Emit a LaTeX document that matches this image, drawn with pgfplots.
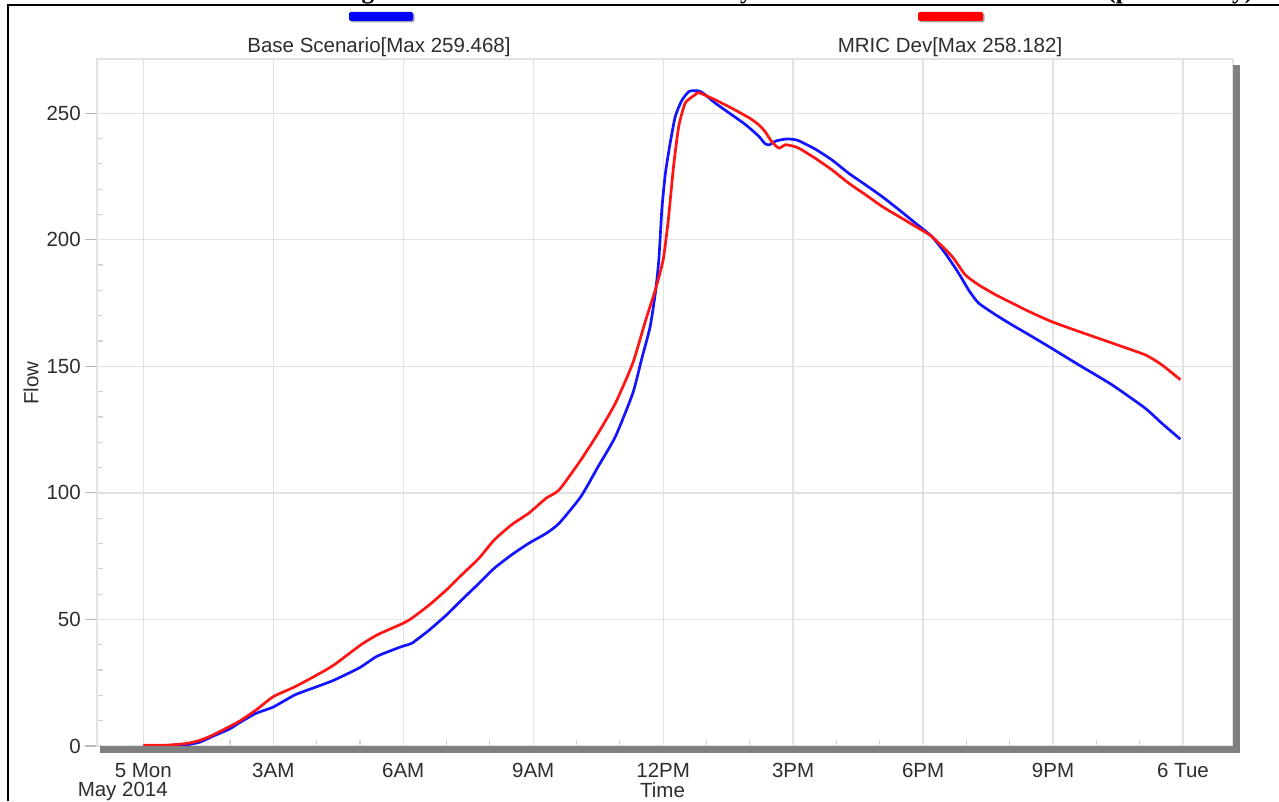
\documentclass[border=0pt]{standalone}
\usepackage{fontspec}
\usepackage{pgfplots}
\pgfplotsset{compat=1.18}
\setmainfont{Liberation Sans}
\newfontfamily\titlefont{Liberation Serif}
\definecolor{blueline}{RGB}{20,20,255}
\definecolor{redline}{RGB}{255,20,20}
\definecolor{gridc}{RGB}{226,226,226}
\definecolor{shadowc}{RGB}{128,128,128}
\definecolor{txt}{RGB}{45,45,45}

\pgfplotstableread{
h v
0 0
0.5 0
1.0 0.5
1.3 1.5
1.6 3.8
2.0 6.8
2.2 9
2.6 12.9
3.0 15.4
3.5 20.2
4.0 23.4
4.4 26
5.0 31
5.4 35.5
6.0 39.5
6.2 40.6
6.6 45.8
7.0 51.8
7.35 57.7
7.75 64.3
8.1 70.2
8.5 75.5
8.9 80.1
9.3 84
9.6 88
10.1 98.5
10.5 110.4
10.9 122.3
11.3 139.4
11.5 152.6
11.7 165.7
11.82 179
11.9 192
11.97 212
12.05 226
12.16 238
12.28 248.7
12.43 255
12.6 258.6
12.82 258.8
12.97 257.3
13.2 254
13.58 249.4
13.9 245.5
14.2 241
14.35 238
14.45 237.5
14.6 239
14.85 239.8
15.1 239.3
15.5 235.9
15.89 231.6
16.28 226.3
16.67 221.7
17.05 217.1
17.44 211.9
17.82 206.6
18.2 201.3
18.51 194.7
18.82 186.8
19.05 180.2
19.28 175
19.67 170.4
20.05 166.4
20.44 162.5
20.96 157.2
21.59 150.6
22.36 142.7
23.13 133.4
23.51 127.5
23.94 121.2
}\basedata

\pgfplotstableread{
h v
0 0.3
0.5 0.3
1.0 1.0
1.3 2.2
1.6 4.3
2.2 9.6
2.6 14.2
3.0 19.5
3.5 23.4
4.0 28
4.4 32
5.0 39.7
5.4 43.9
6.0 48.5
6.2 50.5
6.6 55.7
7.0 61.7
7.35 67.6
7.75 74.2
8.1 81.4
8.5 87.4
8.9 92
9.3 97.9
9.6 101.2
10.1 113
10.5 123.6
10.9 135.5
11.3 151.3
11.6 168.4
11.82 180.2
12.0 192
12.12 208
12.24 229
12.36 244.8
12.51 254
12.74 257.3
12.82 258.1
13.2 255.3
13.58 252
14.0 248
14.2 245.5
14.35 242.8
14.5 238.9
14.67 236.2
14.82 237.5
14.97 237.1
15.13 236.2
15.5 232.3
15.89 227.7
16.28 222.4
16.67 217.8
17.05 213.2
17.44 209.2
17.82 205.3
18.2 201.3
18.67 193.4
18.97 186.2
19.28 182.2
19.67 178.3
20.05 175
20.44 171.7
20.96 167.7
21.59 163.8
22.36 159.2
23.13 154.5
23.51 150.6
23.94 144.7
}\mricdata

\begin{document}
\begin{tikzpicture}
\useasboundingbox (0,0) rectangle (1279pt,801pt);
\clip (0,0) rectangle (1279pt,801pt);
% cut-off document title (only descenders visible)
\node[anchor=base west, inner sep=0pt, font=\titlefont\bfseries\fontsize{25.3}{28}\selectfont]
  at (339pt,802pt) {Figure 7: Base and MRIC Dev Hourly Flow Near the Main Site Access (preliminary)};
% outer frame
\draw[black, line width=2pt] (8pt,0pt) -- (8pt,795.5pt) -- (1285pt,795.5pt);
% legend
\fill[shadowc!70, rounded corners=1.5pt] (350.5pt,778.5pt) rectangle (414.5pt,787.5pt);
\fill[blue, rounded corners=1.5pt] (349pt,780pt) rectangle (413pt,789pt);
\fill[shadowc!70, rounded corners=1.5pt] (919.5pt,778.5pt) rectangle (984.5pt,787.5pt);
\fill[red, rounded corners=1.5pt] (918pt,780pt) rectangle (983pt,789pt);
\node[anchor=base, inner sep=0pt, text=txt, font=\fontsize{20.5}{24}\selectfont] at (379pt,748.5pt) {Base Scenario[Max 259.468]};
\node[anchor=base, inner sep=0pt, text=txt, font=\fontsize{20.5}{24}\selectfont] at (950pt,748.5pt) {MRIC Dev[Max 258.182]};

\begin{axis}[
  at={(97pt,55pt)}, anchor=south west,
  scale only axis, width=1136pt, height=687pt,
  xmin=-1.069, xmax=25.155, ymin=0, ymax=271.4,
  xtick={0,3,...,24},
  xticklabels={5 Mon,3AM,6AM,9AM,12PM,3PM,6PM,9PM,6 Tue},
  ytick={0,50,...,250},
  minor x tick num=2, minor y tick num=4,
  tick pos=left,
  grid=major,
  major grid style={draw=gridc, line width=1.3pt},
  axis line style={draw=gridc, line width=1.3pt},
  tick align=outside,
  major tick length=12pt, minor tick length=6pt,
  major x tick style={draw=none},
  major y tick style={draw=gray!55, line width=1.2pt},
  minor x tick style={draw=gray!35, line width=1.2pt, yshift=6pt},
  minor y tick style={draw=gray!35, line width=1.2pt, xshift=6pt},
  ticklabel style={font=\fontsize{20.5}{24}\selectfont, text=txt},
  yticklabel style={inner xsep=4pt},
  xticklabel style={inner ysep=5pt},
  /pgf/number format/assume math mode=true,
]
\addplot[blueline, line width=2.7pt, line join=round, smooth, tension=0.35] table[x=h,y=v] {\basedata};
\addplot[redline, line width=2.7pt, line join=round, smooth, tension=0.35] table[x=h,y=v] {\mricdata};
\end{axis}
% drop shadow of the plot area
\fill[shadowc] (100pt,48pt) rectangle (1240pt,55pt);
\fill[shadowc] (1233pt,48pt) rectangle (1240pt,736pt);
% axis titles
\node[rotate=90, anchor=center, inner sep=0pt, text=txt, font=\fontsize{20.5}{24}\selectfont] at (31pt,418pt) {Flow};
\node[anchor=base east, inner sep=0pt, text=txt, font=\fontsize{20.5}{24}\selectfont] at (168pt,5pt) {May 2014};
\node[anchor=base, inner sep=0pt, text=txt, font=\fontsize{20.5}{24}\selectfont] at (662.5pt,4pt) {Time};
\end{tikzpicture}
\end{document}
